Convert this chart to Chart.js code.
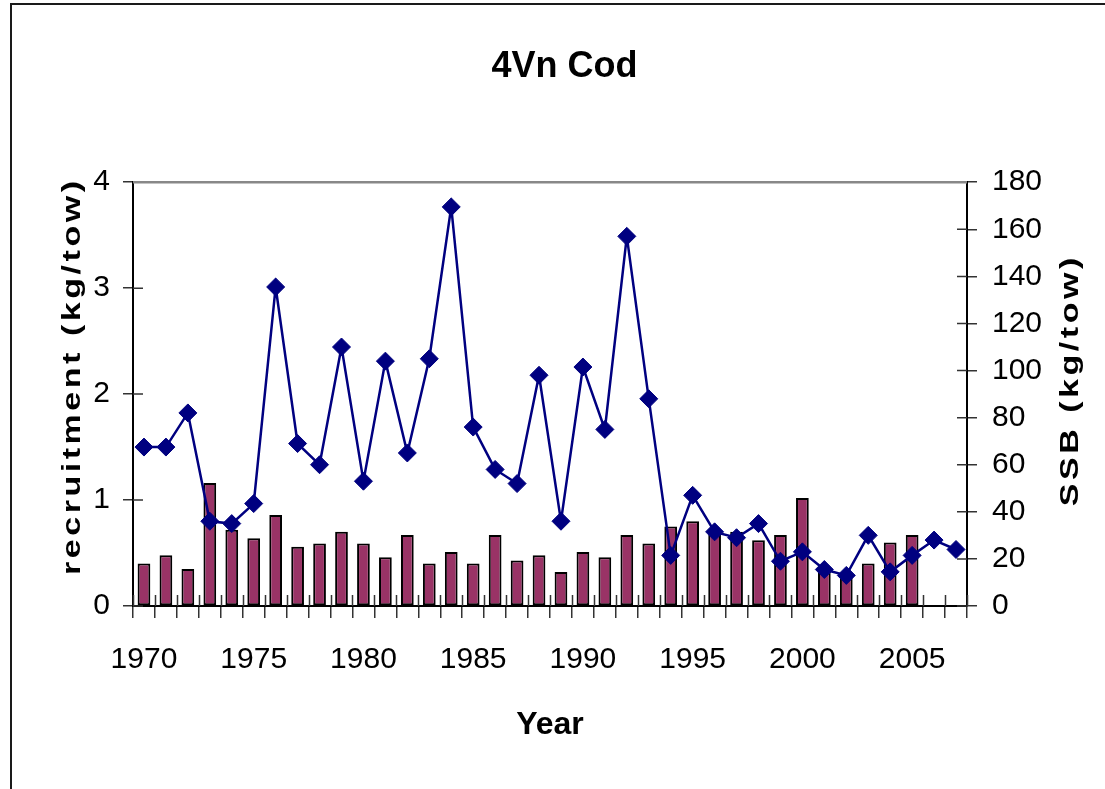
<!DOCTYPE html>
<html>
<head>
<meta charset="utf-8">
<script src="https://cdn.jsdelivr.net/npm/chart.js@4.4.1/dist/chart.umd.min.js"></script>
<style>
html, body { margin: 0; padding: 0; background: #fff; }
#wrap { position: relative; width: 1105px; height: 789px; overflow: hidden; }
#c { position: absolute; left: 0; top: 0; }
#frame { position: absolute; left: 10px; top: 3px; width: 1200px; height: 900px; border-left: 2px solid #1a1a1a; border-top: 2px solid #1a1a1a; pointer-events: none; }
</style>
</head>
<body>
<div id="wrap"><canvas id="c" width="1105" height="789"></canvas><div id="frame"></div></div>
<script>
// ---- data ----
const years = ['1970','1971','1972','1973','1974','1975','1976','1977','1978','1979',
               '1980','1981','1982','1983','1984','1985','1986','1987','1988','1989',
               '1990','1991','1992','1993','1994','1995','1996','1997','1998','1999',
               '2000','2001','2002','2003','2004','2005','2006','2007'];
// recruitment (kg/tow), left axis, bars
const recruitment = [0.40,0.48,0.35,1.16,0.72,0.64,0.86,0.56,0.59,0.70,
                     0.59,0.46,0.67,0.40,0.51,0.40,0.67,0.43,0.48,0.32,
                     0.51,0.46,0.67,0.59,0.75,0.80,0.72,0.70,0.62,0.67,
                     1.02,0.35,0.29,0.40,0.60,0.67,null,null];
// SSB (kg/tow), right axis, line
const ssb = [67.5,67.5,82,36,35,43.5,135.5,69,60,110,
             53,104,65,105,169.5,76,58,52,98,36,
             101.5,75,157,88,21.5,47,31.5,29,35,19,
             23,15.5,13,30,14.5,21.5,28,24];
const leftTicks = [0,1,2,3,4];
const rightTicks = [0,20,40,60,80,100,120,140,160,180];
const titleText = '4Vn Cod';
const xTitle = 'Year';
const yLeftTitle = 'recruitment (kg/tow)';
const yRightTitle = 'SSB (kg/tow)';

// ---- styles ----
const SANS = "'Liberation Sans',Arial,sans-serif";
const TICK_FONT = { family: SANS, size: 30 };

const innerTicks = {
  id: 'innerTicks',
  beforeDatasetsDraw(chart) {
    const { ctx, chartArea: ca, scales } = chart;
    ctx.save();
    ctx.strokeStyle = '#333';
    ctx.lineWidth = 1.5;
    ctx.beginPath();
    const x = scales.x;
    const n = x.ticks.length;
    const w = (x.right - x.left) / n;
    for (let i = 0; i <= n; i++) {
      const px = Math.round(x.left + i * w) + 0.5;
      ctx.moveTo(px, ca.bottom);
      ctx.lineTo(px, ca.bottom - 11);
    }
    scales.y.ticks.forEach(t => {
      const py = scales.y.getPixelForValue(t.value);
      ctx.moveTo(ca.left, py); ctx.lineTo(ca.left + 10, py);
    });
    scales.y1.ticks.forEach(t => {
      const py = scales.y1.getPixelForValue(t.value);
      ctx.moveTo(ca.right, py); ctx.lineTo(ca.right - 10, py);
    });
    ctx.stroke();
    ctx.strokeStyle = '#888';
    ctx.lineWidth = 2.5;
    ctx.beginPath();
    ctx.moveTo(ca.left, ca.top);
    ctx.lineTo(ca.right, ca.top);
    ctx.stroke();
    ctx.restore();
  }
};

const yTitles = {
  id: 'yTitles',
  afterDraw(chart) {
    const ctx = chart.ctx;
    const draw = (text, x, y) => {
      ctx.save();
      ctx.translate(x, y);
      ctx.rotate(-Math.PI / 2);
      ctx.scale(1.36, 1);
      ctx.fillText(text, 1.3, 0);
      ctx.restore();
    };
    ctx.save();
    ctx.fillStyle = '#000';
    ctx.font = "bold 25px " + SANS;
    try { ctx.letterSpacing = '2.6px'; } catch (e) {}
    ctx.textAlign = 'center';
    ctx.textBaseline = 'alphabetic';
    draw(yLeftTitle, 80, 378);
    draw(yRightTitle, 1078, 382);
    ctx.restore();
  }
};

new Chart(document.getElementById('c').getContext('2d'), {
  type: 'bar',
  data: {
    labels: years,
    datasets: [
      {
        type: 'line',
        label: 'SSB',
        data: ssb,
        yAxisID: 'y1',
        borderColor: '#000080',
        backgroundColor: '#000080',
        borderWidth: 2.5,
        pointStyle: 'rectRot',
        pointRadius: 9,
        pointBackgroundColor: '#000080',
        pointBorderColor: '#000080',
        pointBorderWidth: 1,
        tension: 0,
        order: 0
      },
      {
        type: 'bar',
        label: 'recruitment',
        data: recruitment,
        yAxisID: 'y',
        backgroundColor: '#993366',
        borderColor: '#000000',
        borderWidth: 2,
        borderSkipped: false,
        barPercentage: 0.58,
        categoryPercentage: 1,
        order: 1
      }
    ]
  },
  options: {
    responsive: false,
    animation: false,
    devicePixelRatio: 1,
    layout: { padding: { left: 24, right: 0, top: 0, bottom: 0 } },
    plugins: {
      legend: { display: false },
      tooltip: { enabled: false },
      title: {
        display: true,
        text: titleText,
        color: '#000',
        font: { family: SANS, size: 36, weight: 'bold' },
        padding: { top: 45, bottom: 94 }
      }
    },
    scales: {
      x: {
        offset: true,
        grid: { offset: true, drawOnChartArea: false, tickLength: 12, color: '#333', lineWidth: 1.5 },
        border: { color: '#000', width: 2 },
        ticks: {
          autoSkip: false, maxRotation: 0, minRotation: 0, padding: 24,
          font: TICK_FONT, color: '#000',
          callback: function (v, i) { const y = years[i]; return (+y) % 5 === 0 ? y : ''; }
        },
        title: {
          display: true, text: xTitle, color: '#000',
          font: { family: SANS, size: 32, weight: 'bold' },
          padding: { top: 0, bottom: 45 }
        },
        afterFit(s) { s.height = 183; }
      },
      y: {
        position: 'left', min: 0, max: 4,
        afterBuildTicks(s) { s.ticks = leftTicks.map(v => ({ value: v })); },
        ticks: { padding: 13, font: TICK_FONT, color: '#000' },
        grid: { drawOnChartArea: false, tickLength: 10, color: '#333', lineWidth: 1.5 },
        border: { color: '#000', width: 2 },
        afterFit(s) { s.width = 109; }
      },
      y1: {
        position: 'right', min: 0, max: 180,
        afterBuildTicks(s) { s.ticks = rightTicks.map(v => ({ value: v })); },
        ticks: { padding: 15, font: TICK_FONT, color: '#000' },
        grid: { drawOnChartArea: false, tickLength: 10, color: '#333', lineWidth: 1.5 },
        border: { color: '#000', width: 2 },
        afterFit(s) { s.width = 138; }
      }
    }
  },
  plugins: [innerTicks, yTitles]
});
</script>
</body>
</html>
